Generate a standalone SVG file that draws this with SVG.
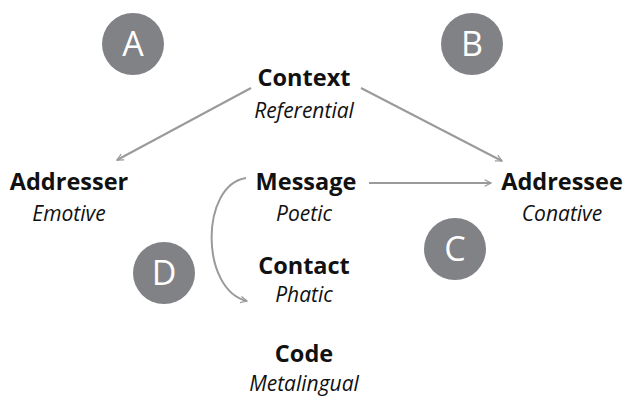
<svg xmlns="http://www.w3.org/2000/svg" width="626" height="396" viewBox="0 0 626 396">
<style>
.badge circle{fill:#808285}
.badge text{fill:#fff;font-family:"Open Sans","Liberation Sans",sans-serif;font-size:34px;text-anchor:middle}
.t{font-family:"Open Sans","Liberation Sans",sans-serif;font-size:23.5px;font-weight:bold;fill:#111;text-anchor:middle}
.s{font-family:"Open Sans","Liberation Sans",sans-serif;font-size:21px;font-style:italic;fill:#111;text-anchor:middle}
.c{fill:none;stroke:#999a9c;stroke-width:2;marker-end:url(#ah)}
</style>
<defs>
<marker id="ah" viewBox="0 0 10 10" refX="9" refY="5" markerWidth="8" markerHeight="8" markerUnits="userSpaceOnUse" orient="auto">
<path d="M1,1 L9,5 L1,9" fill="none" stroke="#999a9c" stroke-width="1.5"/>
</marker>
</defs>
<g id="badgeA" class="badge"><circle cx="133" cy="44" r="31"/><text x="133" y="56">A</text></g>
<g id="badgeB" class="badge"><circle cx="472" cy="44" r="31"/><text x="472" y="56">B</text></g>
<g id="badgeC" class="badge"><circle cx="455" cy="249" r="31"/><text x="455" y="261">C</text></g>
<g id="badgeD" class="badge"><circle cx="164" cy="273" r="31"/><text x="164" y="285">D</text></g>
<g id="connectors">
<path class="c" d="M251,88 L117,160"/>
<path class="c" d="M361,88 L502,161"/>
<path class="c" d="M369,183 L491,183"/>
<path class="c" d="M246,178 C200,185 200,290 247,301"/>
</g>
<g id="context"><text class="t" x="304" y="86">Context</text><text class="s" x="304" y="118">Referential</text></g>
<g id="addresser"><text class="t" x="69" y="190">Addresser</text><text class="s" x="69" y="221">Emotive</text></g>
<g id="message"><text class="t" x="306" y="190">Message</text><text class="s" x="304" y="221">Poetic</text></g>
<g id="addressee"><text class="t" x="562" y="190">Addressee</text><text class="s" x="562" y="221">Conative</text></g>
<g id="contact"><text class="t" x="304" y="274">Contact</text><text class="s" x="304" y="302">Phatic</text></g>
<g id="code"><text class="t" x="304" y="362">Code</text><text class="s" x="304" y="391">Metalingual</text></g>
</svg>
